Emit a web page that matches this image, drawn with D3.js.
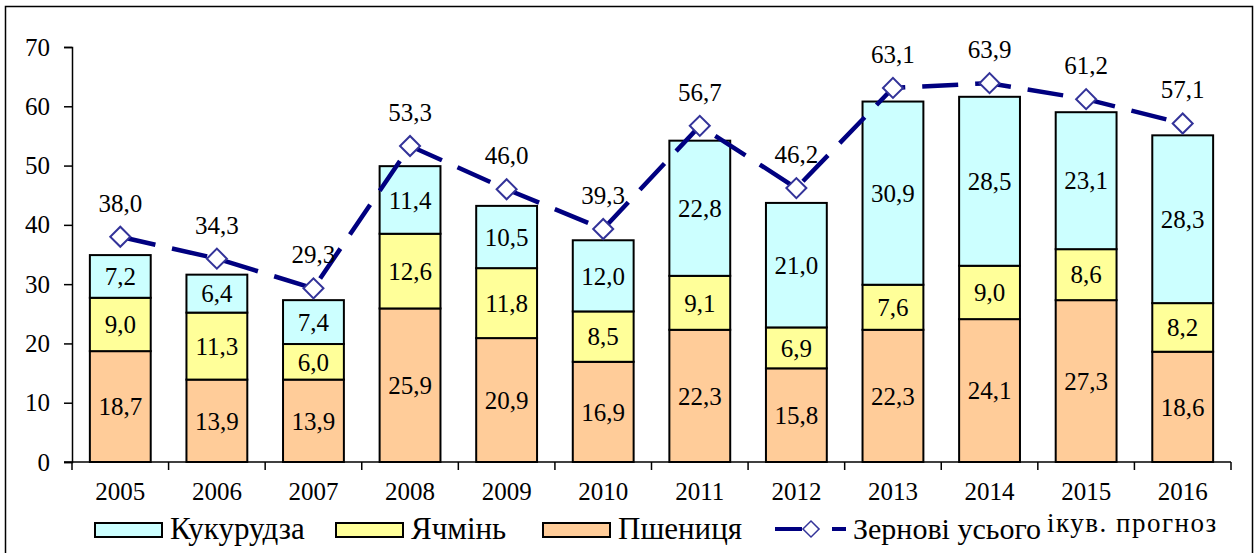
<!DOCTYPE html>
<html>
<head>
<meta charset="utf-8">
<script src="https://cdn.jsdelivr.net/npm/d3@7"></script>
<style>
body { margin: 0; background: #fff; }
text { font-family: "Liberation Serif", "Times New Roman", serif; fill: #000; }
</style>
</head>
<body>
<svg></svg>
<script>
var years = ['2005', '2006', '2007', '2008', '2009', '2010', '2011', '2012', '2013', '2014', '2015', '2016'];
var wheat = [18.7, 13.9, 13.9, 25.9, 20.9, 16.9, 22.3, 15.8, 22.3, 24.1, 27.3, 18.6];
var barley = [9.0, 11.3, 6.0, 12.6, 11.8, 8.5, 9.1, 6.9, 7.6, 9.0, 8.6, 8.2];
var corn = [7.2, 6.4, 7.4, 11.4, 10.5, 12.0, 22.8, 21.0, 30.9, 28.5, 23.1, 28.3];
var total = [38.0, 34.3, 29.3, 53.3, 46.0, 39.3, 56.7, 46.2, 63.1, 63.9, 61.2, 57.1];
var yTicks = [0, 10, 20, 30, 40, 50, 60, 70];

var series = [
	{ key: 'wheat', name: 'Пшениця', values: wheat, color: '#FFCC99' },
	{ key: 'barley', name: 'Ячмінь', values: barley, color: '#FFFF99' },
	{ key: 'corn', name: 'Кукурудза', values: corn, color: '#CCFFFF' }
];

var width = 1259;
var height = 553;
var margin = { top: 47, right: 28, bottom: 91, left: 72 };

var svg = d3.select('svg')
	.attr('width', width)
	.attr('height', height);

// outer frame
svg.append('rect')
	.attr('x', 5.5)
	.attr('y', 6.5)
	.attr('width', 1247)
	.attr('height', 560)
	.attr('fill', 'none')
	.attr('stroke', '#000')
	.attr('stroke-width', 1.5);

var x = d3.scaleBand()
	.domain(years)
	.range([margin.left, width - margin.right])
	.paddingInner(0.37)
	.paddingOuter(0.185);

var y = d3.scaleLinear()
	.domain([0, 70])
	.range([height - margin.bottom, margin.top]);

var rows = years.map(function(yr, i) {
	var r = { year: yr };
	series.forEach(function(s) { r[s.key] = s.values[i]; });
	return r;
});

var stack = d3.stack().keys(series.map(function(s) { return s.key; }));
var layers = stack(rows);

var g = svg.append('g');

layers.forEach(function(layer, li) {
	var s = series[li];
	var grp = g.append('g');
	grp.selectAll('rect')
		.data(layer)
		.enter().append('rect')
		.attr('x', function(d) { return x(d.data.year); })
		.attr('y', function(d) { return y(d[1]); })
		.attr('width', x.bandwidth())
		.attr('height', function(d) { return y(d[0]) - y(d[1]); })
		.attr('fill', s.color)
		.attr('stroke', '#000')
		.attr('stroke-width', 2);
	grp.selectAll('text')
		.data(layer)
		.enter().append('text')
		.attr('x', function(d) { return x(d.data.year) + x.bandwidth() / 2; })
		.attr('y', function(d) { return (y(d[0]) + y(d[1])) / 2; })
		.attr('dy', '0.35em')
		.attr('text-anchor', 'middle')
		.style('font-size', '25px')
		.text(function(d) { return (d[1] - d[0]).toFixed(1).replace('.', ','); });
});

// axes
var yAxis = d3.axisLeft(y).tickValues(yTicks).tickSize(8).tickPadding(14);
var yg = svg.append('g')
	.attr('transform', 'translate(' + margin.left + ',0)')
	.call(yAxis);
yg.select('.domain').attr('stroke', '#000').attr('stroke-width', 1.5);
yg.selectAll('.tick line').attr('stroke', '#000').attr('stroke-width', 1.5);
yg.selectAll('text').style('font-size', '25px').style('font-family', '"Liberation Serif", serif');

var xg = svg.append('g')
	.attr('transform', 'translate(0,' + y(0) + ')');
xg.append('line')
	.attr('x1', margin.left - 8)
	.attr('x2', width - margin.right)
	.attr('stroke', '#000')
	.attr('stroke-width', 1.5);
var step = x.step();
var bounds = d3.range(years.length + 1).map(function(i) { return margin.left + i * step; });
xg.selectAll('line.tk')
	.data(bounds)
	.enter().append('line')
	.attr('class', 'tk')
	.attr('x1', function(d) { return d; })
	.attr('x2', function(d) { return d; })
	.attr('y1', 0)
	.attr('y2', 8)
	.attr('stroke', '#000')
	.attr('stroke-width', 1.5);
xg.selectAll('text')
	.data(years)
	.enter().append('text')
	.attr('x', function(d) { return x(d) + x.bandwidth() / 2; })
	.attr('y', 38)
	.attr('text-anchor', 'middle')
	.style('font-size', '25px')
	.text(function(d) { return d; });

// total line
var cx = function(i) { return x(years[i]) + x.bandwidth() / 2; };
var line = d3.line()
	.x(function(d, i) { return cx(i); })
	.y(function(d) { return y(d); });

svg.append('path')
	.attr('d', line(total))
	.attr('fill', 'none')
	.attr('stroke', '#000080')
	.attr('stroke-width', 4.5)
	.attr('stroke-dasharray', '36,17');

var diamond = d3.symbol().type(d3.symbolSquare).size(200);
svg.selectAll('path.mk')
	.data(total)
	.enter().append('path')
	.attr('class', 'mk')
	.attr('d', diamond)
	.attr('transform', function(d, i) { return 'translate(' + cx(i) + ',' + y(d) + ') rotate(45)'; })
	.attr('fill', '#fff')
	.attr('stroke', '#333399')
	.attr('stroke-width', 2);

svg.selectAll('text.tot')
	.data(total)
	.enter().append('text')
	.attr('class', 'tot')
	.attr('x', function(d, i) { return cx(i); })
	.attr('y', function(d) { return y(d) - 25; })
	.attr('text-anchor', 'middle')
	.style('font-size', '25px')
	.text(function(d) { return d.toFixed(1).replace('.', ','); });

// legend
var legend = svg.append('g');
var legItems = [
	{ s: series[2], x: 95 },
	{ s: series[1], x: 336 },
	{ s: series[0], x: 543 }
];
legItems.forEach(function(it) {
	legend.append('rect')
		.attr('x', it.x)
		.attr('y', 523)
		.attr('width', 67)
		.attr('height', 14)
		.attr('fill', it.s.color)
		.attr('stroke', '#000')
		.attr('stroke-width', 2);
	legend.append('text')
		.attr('x', it.x + 75)
		.attr('y', 539)
		.style('font-size', '31px')
		.text(it.s.name);
});
legend.append('line')
	.attr('x1', 775).attr('x2', 802)
	.attr('y1', 529).attr('y2', 529)
	.attr('stroke', '#000080').attr('stroke-width', 4);
legend.append('line')
	.attr('x1', 832).attr('x2', 846)
	.attr('y1', 529).attr('y2', 529)
	.attr('stroke', '#000080').attr('stroke-width', 4);
legend.append('path')
	.attr('d', d3.symbol().type(d3.symbolSquare).size(130))
	.attr('transform', 'translate(811,529) rotate(45)')
	.attr('fill', '#fff')
	.attr('stroke', '#333399')
	.attr('stroke-width', 1.5);
legend.append('text')
	.attr('x', 853)
	.attr('y', 539)
	.style('font-size', '30px')
	.text('Зернові усього');
legend.append('text')
	.attr('x', 1047)
	.attr('y', 532)
	.style('font-size', '27px')
	.style('letter-spacing', '1.5px')
	.text('ікув. прогноз');
</script>
</body>
</html>
